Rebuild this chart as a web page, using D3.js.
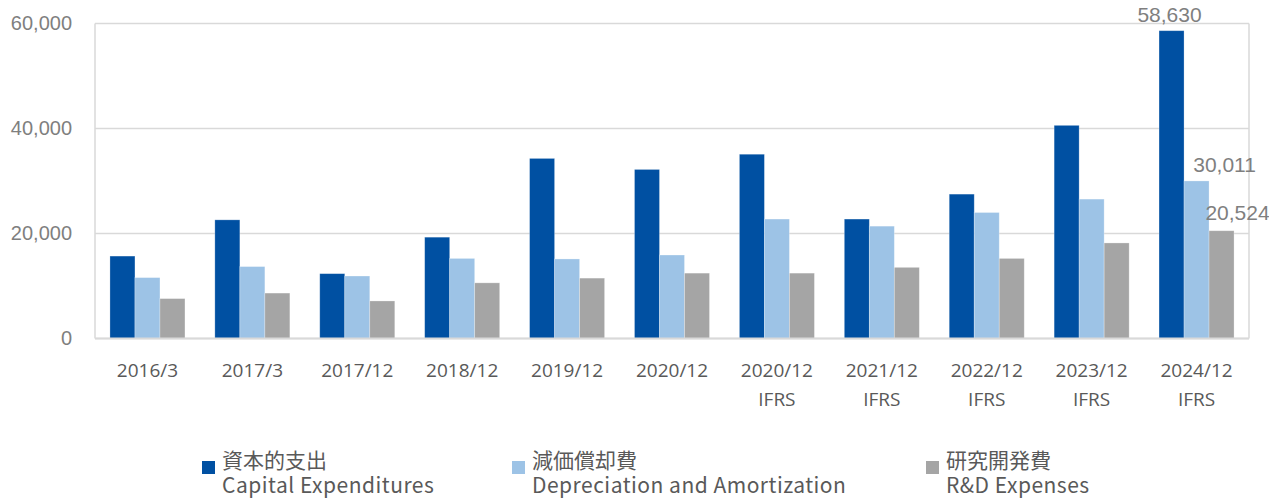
<!DOCTYPE html>
<html>
<head>
<meta charset="utf-8">
<script src="https://cdn.jsdelivr.net/npm/d3@7"></script>
<style>
  html, body { margin: 0; padding: 0; background: #fff; }
  svg { display: block; }
</style>
</head>
<body>
<svg id="chart" width="1269" height="498"></svg>
<script>
const categories = ["2016/3", "2017/3", "2017/12", "2018/12", "2019/12", "2020/12", "2020/12\nIFRS", "2021/12\nIFRS", "2022/12\nIFRS", "2023/12\nIFRS", "2024/12\nIFRS"];
const capex = [15700, 22600, 12350, 19300, 34300, 32200, 35100, 22750, 27500, 40600, 58630];
const depreciation = [11600, 13700, 11900, 15250, 15150, 15900, 22750, 21400, 24000, 26550, 30011];
const rnd = [7600, 8650, 7150, 10600, 11500, 12450, 12450, 13550, 15250, 18200, 20524];
const yTicks = [0, 20000, 40000, 60000];
const seriesNames = [
  { jp: "資本的支出", en: "Capital Expenditures" },
  { jp: "減価償却費", en: "Depreciation and Amortization" },
  { jp: "研究開発費", en: "R&D Expenses" }
];
const colors = ["#0050a2", "#9dc3e6", "#a5a5a5"];
const seriesValues = [capex, depreciation, rnd];
const labeled = [{ s: 0, i: 10, dx: -2, dy: -9 }, { s: 1, i: 10, dx: 28, dy: -9 }, { s: 2, i: 10, dx: 16, dy: -11 }];

const svg = d3.select("#chart");
const m = { left: 95, top: 23.5, right: 20, bottom: 159.5 };
const W = 1269 - m.left - m.right, H = 498 - m.top - m.bottom;
const g = svg.append("g").attr("transform", `translate(${m.left},${m.top})`);

const x0 = d3.scaleBand().domain(categories).range([0, W]).paddingInner(0.285).paddingOuter(0.1425);
const x1 = d3.scaleBand().domain([0, 1, 2]).range([0, x0.bandwidth()]);
const y = d3.scaleLinear().domain([0, 60000]).range([H, 0]);

// gridlines
g.append("g").selectAll("line").data(yTicks).join("line")
  .attr("x1", 0).attr("x2", W)
  .attr("y1", d => y(d)).attr("y2", d => y(d))
  .attr("stroke", "#d9d9d9").attr("stroke-width", 1.5);
// left/right borders
g.append("line").attr("x1", 0).attr("x2", 0).attr("y1", 0).attr("y2", H).attr("stroke", "#d9d9d9").attr("stroke-width", 1.5);
g.append("line").attr("x1", W).attr("x2", W).attr("y1", 0).attr("y2", H).attr("stroke", "#d9d9d9").attr("stroke-width", 1.5);

// y axis
const yAxis = g.append("g").call(d3.axisLeft(y).tickValues(yTicks).tickFormat(d3.format(",")).tickSize(0).tickPadding(23));
yAxis.select(".domain").remove();
yAxis.selectAll("text").attr("font-family", "'Liberation Sans', Arial, sans-serif").attr("font-size", 20).attr("fill", "#7f7f7f");

// bars
seriesValues.forEach((vals, s) => {
  g.append("g").selectAll("rect").data(vals).join("rect")
    .attr("x", (d, i) => x0(categories[i]) + x1(s))
    .attr("width", x1.bandwidth())
    .attr("y", d => y(d))
    .attr("height", d => H - y(d))
    .attr("fill", colors[s])
    .attr("stroke", "rgba(255,255,255,0.35)").attr("stroke-width", 0.75);
});

// bottom axis line
g.append("line").attr("x1", 0).attr("x2", W).attr("y1", H).attr("y2", H).attr("stroke", "#d9d9d9").attr("stroke-width", 2);

// x labels
const xAxis = g.append("g").attr("transform", `translate(0,${H})`).call(d3.axisBottom(x0).tickSize(0).tickFormat(""));
xAxis.select(".domain").remove();
xAxis.selectAll(".tick").each(function(d) {
  const lines = d.split("\n");
  const t = d3.select(this).append("text")
    .attr("text-anchor", "middle")
    .attr("font-family", "'Open Sans', 'Noto Sans', sans-serif")
    .attr("font-size", 19).attr("fill", "#595959");
  lines.forEach((ln, k) => t.append("tspan").attr("x", 0).attr("y", 38 + k * 29).text(ln));
});

// value labels
g.append("g").selectAll("text").data(labeled).join("text")
  .attr("x", d => x0(categories[d.i]) + x1(d.s) + x1.bandwidth() / 2 + d.dx)
  .attr("y", d => y(seriesValues[d.s][d.i]) + d.dy)
  .attr("text-anchor", "middle")
  .attr("font-family", "'Liberation Sans', Arial, sans-serif")
  .attr("font-size", 21).attr("fill", "#7f7f7f")
  .text(d => d3.format(",")(seriesValues[d.s][d.i]));

// legend
const legendX = [202, 512, 926];
const lg = svg.append("g");
seriesNames.forEach((s, k) => {
  const item = lg.append("g").attr("transform", `translate(${legendX[k]},0)`);
  item.append("rect").attr("x", 0).attr("y", 461).attr("width", 13).attr("height", 13).attr("fill", colors[k]);
  const t = item.append("text").attr("font-family", "'Noto Sans CJK JP', 'Noto Sans', sans-serif").attr("font-size", 21).attr("fill", "#595959");
  t.append("tspan").attr("x", 20).attr("y", 468).text(s.jp);
  t.append("tspan").attr("x", 20).attr("y", 493).attr("letter-spacing", 0.5).text(s.en);
});
</script>
</body>
</html>
